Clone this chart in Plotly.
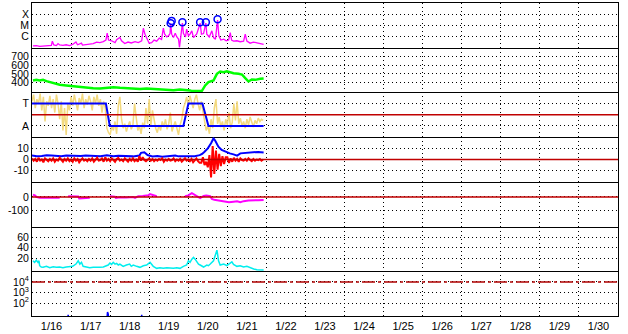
import pandas as pd
import plotly.graph_objects as go
from plotly.subplots import make_subplots

BASE = pd.Timestamp("2005-01-16")
X_END = pd.Timestamp("2005-01-31")

# ---- panel 1 : X-ray flux (hour, W/m2) ----
xray = [(0.6,1.3e-7),(2.7,1.4e-7),(4.7,1.2e-7),(6.8,1.3e-7),(9.9,1.3e-7),(11.9,1.45e-7),(12.5,3.5e-7),
        (13.4,1.6e-7),(15,1.4e-7),(16,2.1e-7),(17,1.6e-7),(19,1.45e-7),(21,1.65e-7),(23,1.4e-7),(25,1.75e-7),
        (27,2.9e-7),(28,1.65e-7),(30.4,2.3e-7),(31,1.55e-7),(33.5,1.75e-7),(35.5,1.9e-7),(37.6,2.1e-7),
        (39.7,2.9e-7),(41.7,2.6e-7),(43.8,3.2e-7),(45.4,4.4e-7),(46.2,1.85e-6),(47,4.4e-7),(48.9,3.8e-7),
        (51,2.6e-7),(52,4.7e-7),(54,7.4e-7),(55,3.8e-7),(57,2.1e-7),(59,2.9e-7),(61,2.4e-7),(63.3,3.2e-7),
        (65.3,2.6e-7),(67.4,3.8e-7),(68.4,5.2e-6),(69.4,1.5e-6),(70.4,6.6e-7),(72,2.3e-7),(73.5,2.6e-7),
        (75,4.4e-7),(76.6,3.5e-7),(78.2,6.6e-7),(79.6,5e-7),(80.7,5.2e-6),(81.5,1.5e-6),(82.8,8.4e-7),
        (84,1.15e-6),(84.8,1.7e-6),(85.2,1.4e-5),(85.8,1.5e-6),(86.9,7.4e-7),(88,1.8e-6),(89,8.4e-7),
        (90,5.5e-7),(90.6,9.6e-8),(91.4,1.07e-6),(92.4,1.5e-5),(93,1.8e-6),(94.3,8.4e-7),(95,4.3e-6),
        (96.1,1.07e-6),(97.1,1.5e-6),(98.2,3e-6),(99.2,7.4e-7),(100.2,1.07e-6),(101.2,1.6e-6),(102.5,6e-6),
        (103.3,1.5e-5),(104.1,1.5e-6),(105.4,1.7e-6),(106.8,1.5e-5),(107.4,1.5e-6),(108.9,8.4e-7),
        (110.5,3e-6),(111.5,7.4e-7),(112.7,5.3e-7),(114,2.9e-5),(114.8,1.07e-6),(116,4.4e-7),(117.8,5.3e-7),
        (119.3,3.8e-7),(120.8,4.4e-7),(121.8,2.1e-6),(122.6,4.4e-7),(123.8,3.5e-7),(125.9,3.8e-7),
        (127.9,3.1e-7),(130,3.5e-7),(131,1.5e-6),(132,3.5e-7),(134,2.3e-7),(136,2.9e-7),(138.2,2.5e-7),
        (140.2,2.1e-7),(142.3,1.75e-7)]
flares = [(85.2,1.5e-5),(85.8,2.4e-5),(92.4,1.8e-5),(103.3,1.8e-5),(106.8,1.8e-5),(114.0,3.4e-5)]

# ---- panel 2 : solar wind speed ----
speed = [(0.6,424),(2.7,432),(4.7,424),(6.8,432),(8.9,417),(10.9,407),(13,394),(15,387),(17,376),(21,368),
         (25,360),(29,348),(33.5,341),(37.6,337),(41.7,334),(45.8,341),(50,348),(54,341),(58,334),(62.2,330),
         (66.3,326),(70.4,334),(74.5,330),(78.6,326),(82.8,319),(86.9,314),(90.9,322),(95,319),(97.1,311),
         (98.2,303),(101,300),(104.3,303),(106.4,368),(108.4,407),(111.5,424),(113.6,501),(115.6,527),
         (117.7,519),(119.7,530),(121.8,518),(123.8,508),(126.9,501),(129,493),(131,451),(133,413),(135,436),
         (137.2,432),(140.2,444),(142.3,447)]

# ---- panel 3 : field angle (hourly) and sector (T = 0.5, A = -0.5) ----
phi = [0.6,0.9,0.3,0.7,0.5,0.95,0.2,0.8,-0.3,0.6,0.4,0.85,
       0.3,0.7,0.1,0.9,0.5,-0.2,0.6,-0.7,0.3,-0.9,0.5,0.2,
       0.8,0.4,0.9,0.6,0.2,0.75,0.5,0.95,0.3,0.7,0.45,0.85,
       0.6,0.2,0.8,0.5,0.9,0.4,0.7,0.1,0.6,0.3,-0.6,-0.8,
       -0.9,-0.5,-0.7,-0.3,-0.85,0.4,0.8,-0.2,-0.6,-0.4,-0.75,-0.5,
       -0.3,-0.65,-0.45,0.5,-0.2,-0.7,-0.5,-0.85,-0.35,-0.6,0.3,-0.4,
       0.7,-0.5,0.2,-0.3,-0.6,-0.8,-0.45,-0.7,-0.3,-0.55,-0.2,-0.65,
       -0.4,0.1,-0.75,-0.5,-0.3,-0.6,-0.9,-0.45,-0.2,0.3,0.5,0.8,
       0.4,0.85,0.6,0.3,0.7,0.9,0.5,0.2,0.6,0.1,
       -0.3,-0.7,-0.5,-0.85,-0.2,-0.6,0.3,0.7,-0.4,-0.1,-0.55,-0.3,-0.7,-0.2,-0.45,0.1,-0.6,-0.35,0.5,
       -0.25,0.6,-0.4,-0.15,-0.5,-0.3,-0.6,-0.2,-0.45,-0.1,-0.35,-0.55,-0.25,-0.4,-0.15,-0.3,-0.2,-0.25]
sector = [(0,0.5),(45.4,0.5),(47.8,-0.5),(93,-0.5),(96.1,0.5),(104.7,0.5),(108.4,-0.5),(142.3,-0.5)]

# ---- panel 4 : Bt (blue) and Bz (red, hourly) ----
bt = [(0,3.5),(3,3.0),(6,3.2),(9,3.8),(12,3.6),(15,3.1),(18,3.0),(21,3.5),(24,3.4),(27,3.0),(30,3.1),(33,3.6),
      (36,3.3),(39,3.5),(42,3.0),(46,3.8),(50,3.0),(53,3.4),(56,3.3),(59,2.9),(62,2.8),(66,3.5),(67,6),(69,6.5),
      (71,4),(74,2.8),(77,3.1),(80,2.5),(83,2.8),(86,3.0),(88,3.6),(90,2.8),(93,3.0),(96,2.6),(100,3.0),
      (103,3.9),(104.5,5),(106,7),(108,10),(110,14.5),(111.5,19),(112.5,17),(114.5,11.5),(116.5,8.5),
      (119.5,6.5),(121.5,5.5),(123.8,4.6),(126,3.5),(128,5.5),(130,5.8),(132,6),(134,6.6),(136,6.5),
      (139,6.8),(142.3,6.3)]
bz = [1,-1,0.5,-2,1.5,-1,0,-2.5,1,-0.5,-1.5,0.5,
      -1,1,-2,0,-1,1.5,-0.5,-2,0.5,-1,1,-1.5,
      0,-2,1,-1,0.5,-2.5,-0.5,1,-1,0,-1.5,0.5,
      -1,1,-2,0,1.5,-1,-0.5,1,-2,2,-1,0.5,
      -1.5,1,-0.5,-2,0.5,1.5,-1,0,-1.5,1,-0.5,-2,
      0.5,-1,1,-1.5,0,-2,3,-1,2,-0.5,-1.5,0,
      1,-1,0.5,-1.5,0,-1,0.5,-0.5,1,-2,0,-1,
      0.5,-1,-0.5,1,-1.5,0,-1,0.5,-2,-0.5,1,-1,
      0,-1.5,0.5,-2.5,-1,1,-1.5,-3,-3,2,-5,-2,
      -7,4,-16,12,-13,8,-9,5,-6,3,-4,2,
      2,-3,1,-2,1.5,-1,0.5,-2,1,-0.5,-1,0.5,
      -1,1,-0.5,-1.5,0.5,-1,0,-0.5,0.5,-1,0]

# ---- panel 5 : Dst (None = data gap) ----
dst = [(0.6,17),(2,10),(2.7,0),(4.7,-7),(10,-7),(17,-6),(19,None),(22.2,5),(26,6),(28.4,4),(29,-12),(31.4,-9),
       (35.5,-7),(40,None),(47.9,5),(50.9,2),(51.5,-7),(54,-3),(58,-5),(62.2,-1),(63.3,-7),(65.3,6),(68,8),
       (71.5,12),(72.5,22),(73.5,18),(75,10),(76.6,5),(85,None),(94,5),(96,12),(98.2,28),(99.2,20),(101,8),
       (103.3,-8),(105.4,8),(107,10),(109.5,6),(110.5,-15),(112,-22),(113.6,-25),(116,-32),(119,-35),
       (121,-40),(123.8,-36),(126,-33),(128,-40),(130,-32),(133,-27),(136,-24),(139,-25),(142.3,-24)]

# ---- panel 6 : density ----
dens = [(0.6,15),(1.6,12),(2.7,16),(3.7,12),(4.3,15),(4.7,5.6),(5.7,3),(6.8,2.5),(8.9,4.4),(10.9,1.8),(13,3.7),
        (15,2.5),(17,3.1),(19,1.8),(21,3.1),(23,3.7),(25,4.4),(27,8.7),(28.4,15),(29.4,8.7),(30.4,12),(31.4,4.4),
        (33.5,2.5),(35.5,1.8),(37.6,2.5),(39.7,1.8),(41.7,2.5),(43.8,3.1),(45.8,5.6),(46.8,6.9),(47.9,10.6),
        (48.9,8.1),(49.9,12),(51,8.7),(52,10),(53,6.9),(54,8.7),(56,4.4),(58,6.9),(60,8.7),(61,4.4),(62.2,6.9),
        (64.3,4.4),(66.3,2.5),(68.4,5.6),(70.4,6.9),(72.5,12),(73.5,8.7),(74.5,4.4),(76.6,0.6),(78.6,1.8),
        (80.7,0.6),(82.8,1.8),(84.8,1.2),(86.9,0.6),(88.9,1.8),(90.9,0.6),(93,4.4),(95,6.9),(96.1,15),(97.1,12),
        (98.2,18),(99.2,21.3),(100.2,18),(101.2,13),(102.3,8.7),(103.3,6.9),(104.3,4.4),(105.4,3.1),(107.4,6.9),
        (108.4,5.6),(109.5,8.7),(111.5,15),(112.5,24.4),(113.6,35),(114,27.5),(114.6,15),(115.6,6.9),(117.8,8.7),
        (119.7,5.6),(121.8,10.6),(122.8,13),(123.8,8.1),(125.9,4.4),(127.9,5.6),(130,3.1),(132,4.4),(134,1.8),
        (136.2,-0.7),(138.2,-1.9),(140.2,-1.9),(142.3,-2.5)]

# ---- panel 7 : proton flux ----
protons = [(0,3),(22,3),(22.2,8),(22.5,3),(46,3),(46.4,15),(46.8,10),(47.2,3),(67.2,3),(67.4,8),(67.6,3),(142.3,3)]

# reference lines
zero_level = 0
proton_threshold = 1e4

# axis ticks
xray_ticks = [1e-4, 1e-5, 1e-6]; xray_labels = ["X", "M", "C"]
speed_ticks = [700, 600, 500, 400]
sector_ticks = [0.5, -0.5]; sector_labels = ["T", "A"]
b_ticks = [10, 0, -10]; b_labels = ["10", "0", "-10"]
dst_ticks = [0, -100]; dst_labels = ["0", "-100"]
dens_ticks = [60, 40, 20]
prot_ticks = [1e4, 1e3, 1e2]; prot_labels = ["10<sup>4</sup>", "10<sup>3</sup>", "10<sup>2</sup>"]


def tx(hours):
    return [BASE + pd.Timedelta(hours=h) for h in hours]


def split(pairs):
    return tx([p[0] for p in pairs]), [p[1] for p in pairs]


fig = make_subplots(rows=7, cols=1, shared_xaxes=True, vertical_spacing=0)

x, y = split(xray)
fig.add_trace(go.Scatter(x=x, y=y, mode="lines", line=dict(color="#FF00FF", width=1.3)), row=1, col=1)
x, y = split(flares)
fig.add_trace(go.Scatter(x=x, y=y, mode="markers",
                         marker=dict(symbol="circle-open", size=7, color="#0000FF", line=dict(width=1.5))),
              row=1, col=1)

x, y = split(speed)
fig.add_trace(go.Scatter(x=x, y=y, mode="lines", line=dict(color="#00FF00", width=2.5)), row=2, col=1)

fig.add_trace(go.Scatter(x=tx(range(len(phi))), y=phi, mode="lines",
                         line=dict(color="#F3D97E", width=1.5)), row=3, col=1)
x, y = split(sector)
fig.add_trace(go.Scatter(x=x, y=y, mode="lines", line=dict(color="#0000FF", width=2)), row=3, col=1)

x, y = split(bt)
fig.add_trace(go.Scatter(x=x, y=y, mode="lines", line=dict(color="#0000FF", width=2)), row=4, col=1)
fig.add_trace(go.Scatter(x=tx(range(len(bz))), y=bz, mode="lines",
                         line=dict(color="#FF0000", width=2)), row=4, col=1)

x, y = split(dst)
fig.add_trace(go.Scatter(x=x, y=y, mode="lines", line=dict(color="#FF00FF", width=2)), row=5, col=1)

x, y = split(dens)
fig.add_trace(go.Scatter(x=x, y=y, mode="lines", line=dict(color="#00EEEE", width=1.5)), row=6, col=1)

x, y = split(protons)
fig.add_trace(go.Scatter(x=x, y=y, mode="lines", line=dict(color="#0000FF", width=1.5)), row=7, col=1)

for r in (3, 4, 5):
    fig.add_hline(y=zero_level, line=dict(color="#C00000", width=1.5), row=r, col=1)
fig.add_hline(y=proton_threshold, line=dict(color="#B00000", width=1.5, dash="13px,3px,3px,3px"), row=7, col=1)

FONT = "Liberation Sans, Arial, sans-serif"
grid = dict(showgrid=True, gridcolor="black", griddash="1px,3px", gridwidth=1)

fig.update_xaxes(type="date", range=[BASE, X_END], tick0=BASE, dtick=86400000, tickformat="%-m/%-d",
                 ticklabelmode="period", ticks="", tickfont=dict(family=FONT, size=11, color="black"),
                 showline=True, mirror=False, linecolor="black", linewidth=1, zeroline=False, **grid)
fig.update_xaxes(row=1, col=1, mirror=True)

yconf = [
    dict(type="log", range=[-7.05, -3], tickvals=xray_ticks, ticktext=xray_labels),
    dict(range=[288, 800], tickvals=speed_ticks, ticktext=[str(v) for v in speed_ticks]),
    dict(range=[-1, 1], tickvals=sector_ticks, ticktext=sector_labels),
    dict(range=[-20, 20], tickvals=b_ticks, ticktext=b_labels),
    dict(range=[-224, 114], tickvals=dst_ticks, ticktext=dst_labels),
    dict(range=[-5, 80], tickvals=dens_ticks, ticktext=[str(v) for v in dens_ticks]),
    dict(type="log", range=[0.8, 5.0], tickvals=prot_ticks, ticktext=prot_labels),
]
for i, c in enumerate(yconf, start=1):
    fig.update_yaxes(row=i, col=1, ticks="", tickfont=dict(family=FONT, size=10.5, color="black"),
                     showline=True, mirror=True, linecolor="black", linewidth=1, zeroline=False,
                     **grid, **c)

fig.update_layout(width=628, height=334, margin=dict(l=32, r=10, t=2, b=17),
                  paper_bgcolor="white", plot_bgcolor="white", showlegend=False)

fig.write_html("out.html")
